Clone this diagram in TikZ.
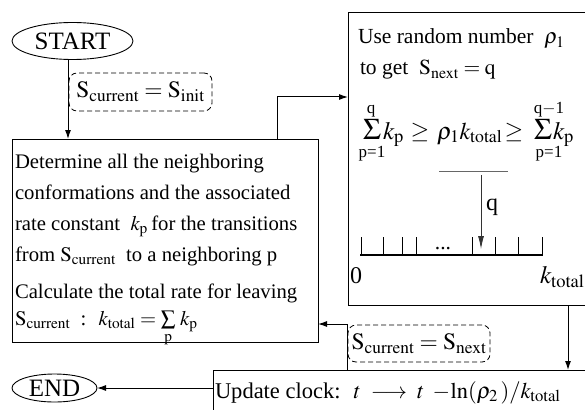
\documentclass[tikz,border=0pt]{standalone}
\usepackage{mathptmx}
\usepackage{fontspec}
\setmainfont{Liberation Serif}
\usetikzlibrary{arrows.meta,shapes.geometric,calc}
\begin{document}
\begin{tikzpicture}[x=1pt,y=-1pt,
  every node/.style={inner sep=0pt, outer sep=0pt},
  box/.style={draw, line width=1pt, anchor=north west},
  lbl/.style={draw, dash pattern=on 5pt off 3pt, rounded corners=8pt, line width=0.8pt, anchor=center},
  oval/.style={draw, ellipse, line width=0.9pt, font=\fontsize{25}{28}\selectfont},
  conn/.style={line width=1pt, -{Latex[length=9pt,width=6pt]}},
  ltxt/.style={anchor=base west, font=\fontsize{20.7}{24}\selectfont},
  rtxt/.style={anchor=base west, font=\fontsize{21.5}{26}\selectfont},
  sig/.style={anchor=base, font=\fontsize{30}{30}\selectfont},
  lim/.style={anchor=base, font=\fontsize{17}{18}\selectfont},
  mth/.style={anchor=base west, font=\fontsize{25}{26}\selectfont},
]
\useasboundingbox (0,0) rectangle (585,409);
\clip (0,0) rectangle (585,409);

% ovals
\node[oval, minimum width=121pt, minimum height=37pt] (start) at (72.5,41) {START};
\node[oval, minimum width=85pt, minimum height=28pt] (end) at (54.5,388) {END};

% boxes
\node[box, minimum width=306pt, minimum height=203pt] (lbox) at (12,139) {};
\node[box, minimum width=260pt, minimum height=292pt] (rbox) at (348,13) {};
\node[box, minimum width=400pt, minimum height=60pt] (bbox) at (213,370) {};

% left box text
\node[ltxt] (l1) at (15,168) {Determine all the neighboring};
\node[ltxt] (l2) at (15,199) {conformations and the associated};
\node[ltxt] (l3) at (15,230) {rate constant \ $k_{\mathrm p}$\,for the transitions};
\node[ltxt] (l4) at (15,261) {from $\mathrm{S}_{\mathrm{current}}$ \ to a neighboring p};
\node[ltxt] (l5) at (15,298) {Calculate the total rate for leaving};
\node[ltxt] (l6) at (15,325) {$\mathrm{S}_{\mathrm{current}}$ \ : \ $k_{\mathrm{total}} = \sum\limits_{\mathrm p}\, k_{\mathrm p}$};

% right box text
\node[rtxt] (r1) at (358,44) {Use random number \ $\rho_{1}$};
\node[rtxt] (r2) at (360,75) {to get \ $\mathrm{S}_{\mathrm{next}} = \mathrm{q}$};

% sum inequality
\node[sig] (sig1) at (372,139) {$\Sigma$};
\node[lim] (up1) at (371,113) {q};
\node[lim] (lo1) at (372,157) {p=1};
\node[mth] (kp1) at (383,139) {$k_{\mathrm p}$};
\node[anchor=base, font=\fontsize{24}{26}\selectfont] (ge1) at (420,138) {$\ge$};
\node[mth, font=\fontsize{24}{26}\selectfont] (rk) at (437,139) {$\rho_{1}k_{\mathrm{total}}$};
\node[anchor=base, font=\fontsize{24}{26}\selectfont] (ge2) at (514,138) {$\ge$};
\node[sig] (sig2) at (543,139) {$\Sigma$};
\node[lim] (up2) at (549,113) {q$-$1};
\node[lim] (lo2) at (549,157) {p=1};
\node[mth] (kp2) at (553,139) {$k_{\mathrm p}$};

\coordinate (hl1) at (439,171);
\coordinate (hl2) at (508,171);
\draw[black!60, line width=0.8pt] (hl1) -- (hl2);
\coordinate (qa) at (481,175);
\coordinate (qb) at (481,249);
\draw[black!80, line width=0.8pt, -{Latex[length=13pt,width=6pt]}] (qa) -- (qb);
\node[anchor=center, font=\fontsize{24}{26}\selectfont] (ql) at (492,207) {q};

\coordinate (n0) at (360,255);
\coordinate (n1) at (543,255);
\draw[line width=2pt] (n0) -- (n1);
\foreach \x in {361,383,402,416,472,495,518,542} \draw[line width=1pt] (\x,255) -- (\x,237);
\node[rtxt, anchor=base] (dots) at (443,249) {...};
\node[anchor=base west, font=\fontsize{24}{26}\selectfont] (zero) at (350,283) {0};
\node[anchor=base west, font=\fontsize{25}{26}\selectfont] (kt) at (540,283) {$k_{\mathrm{total}}$};

% bottom box text
\node[anchor=base west, font=\fontsize{22.5}{26}\selectfont] (upd) at (215,398) {Update clock: \ $t \;\longrightarrow\; t \;-\!\ln(\rho_{2}\,)/k_{\mathrm{total}}$};

% connectors
\coordinate (sdown) at ([xshift=-4.5pt]start.south);
\draw[conn] (sdown) -- (sdown |- lbox.north);
\coordinate (lboxup) at (277,139);
\coordinate (rboxin) at (348,97);
\draw[conn] (lboxup) |- (rboxin);
\coordinate (rbout) at (568,305);
\coordinate (bbin) at (568,370);
\draw[conn] (rbout) -- (bbin);
\coordinate (bbup) at (347,370);
\coordinate (lbin) at (318,324);
\draw[conn] (bbup) |- (lbin);
\draw[conn] (bbox.west |- end.east) -- (end.east);

% dashed labels
\node[lbl, minimum width=143pt, minimum height=38pt, font=\fontsize{23.5}{26}\selectfont] (init) at (140.5,92) {$\mathrm{S}_{\mathrm{current}} = \mathrm{S}_{\mathrm{init}}$};
\node[lbl, minimum width=142pt, minimum height=37pt, font=\fontsize{23.5}{26}\selectfont] (next) at (419,343.5) {$\mathrm{S}_{\mathrm{current}} = \mathrm{S}_{\mathrm{next}}$};
\end{tikzpicture}
\end{document}
